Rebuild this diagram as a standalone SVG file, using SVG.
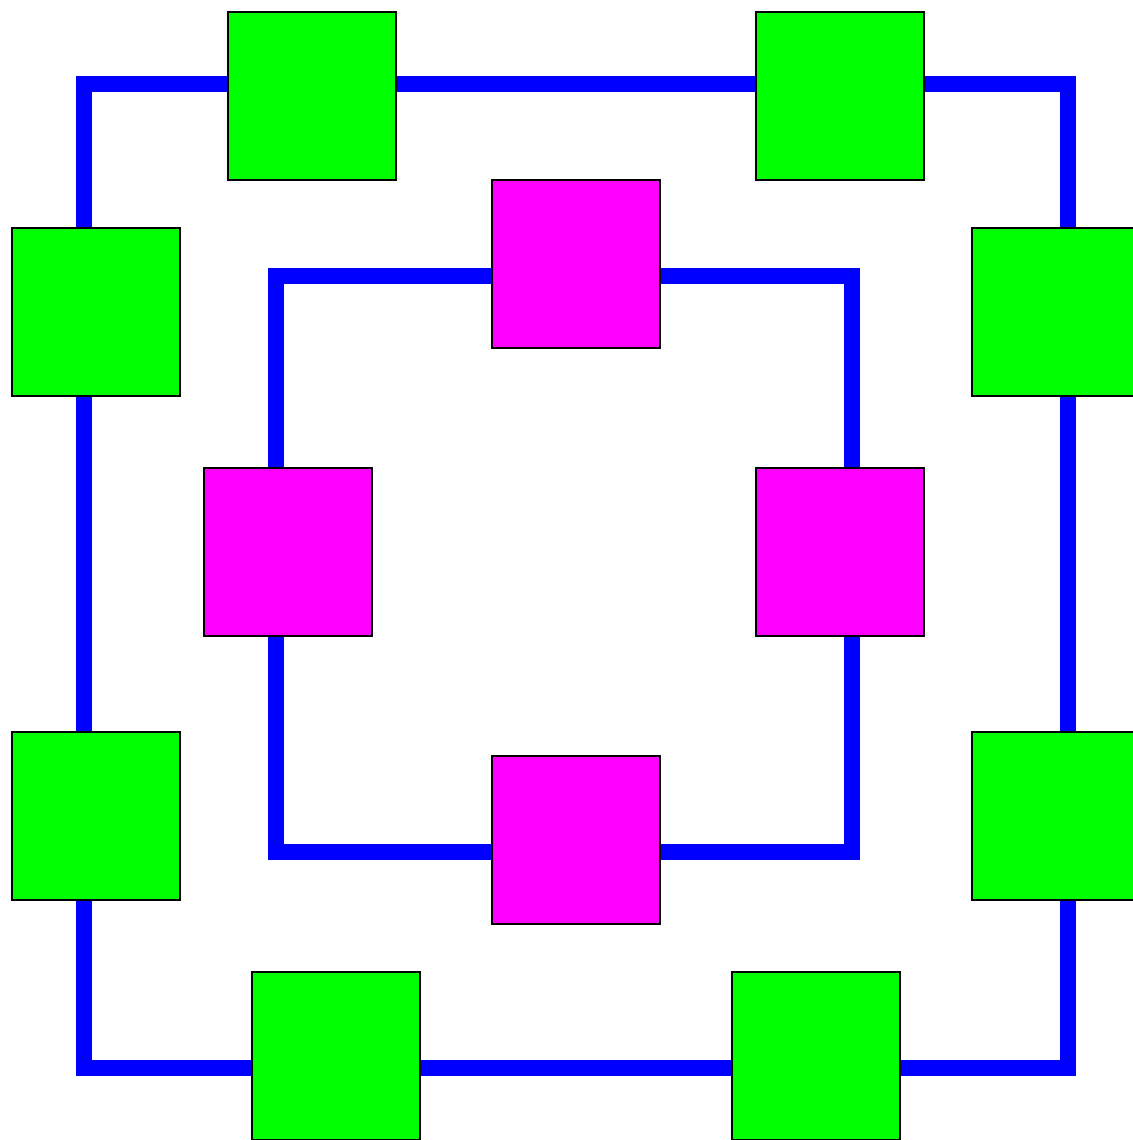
<svg xmlns="http://www.w3.org/2000/svg" width="1133" height="1140" viewBox="0 0 1133 1140">
  <style>
    .edge { fill: none; stroke: #0000ff; stroke-width: 16; stroke-linejoin: miter; stroke-linecap: butt; }
    .green { fill: #00ff00; stroke: #000000; stroke-width: 2; }
    .magenta { fill: #ff00ff; stroke: #000000; stroke-width: 2; }
  </style>
  <rect width="1133" height="1140" fill="#ffffff"/>
  <g id="connectors">
    <path class="edge" d="M312,84 H840"/>
    <path class="edge" d="M840,84 H1068 V312"/>
    <path class="edge" d="M1068,312 V816"/>
    <path class="edge" d="M1068,816 V1068 H816"/>
    <path class="edge" d="M816,1068 H336"/>
    <path class="edge" d="M336,1068 H84 V816"/>
    <path class="edge" d="M84,816 V312"/>
    <path class="edge" d="M84,312 V84 H312"/>
    <path class="edge" d="M576,276 H852 V552"/>
    <path class="edge" d="M852,552 V852 H576"/>
    <path class="edge" d="M576,852 H276 V552"/>
    <path class="edge" d="M276,552 V276 H576"/>
  </g>
  <g id="outer-top-left"><rect class="green" x="228" y="12" width="168" height="168"/></g>
  <g id="outer-top-right"><rect class="green" x="756" y="12" width="168" height="168"/></g>
  <g id="outer-right-top"><rect class="green" x="972" y="228" width="168" height="168"/></g>
  <g id="outer-right-bottom"><rect class="green" x="972" y="732" width="168" height="168"/></g>
  <g id="outer-bottom-right"><rect class="green" x="732" y="972" width="168" height="168"/></g>
  <g id="outer-bottom-left"><rect class="green" x="252" y="972" width="168" height="168"/></g>
  <g id="outer-left-bottom"><rect class="green" x="12" y="732" width="168" height="168"/></g>
  <g id="outer-left-top"><rect class="green" x="12" y="228" width="168" height="168"/></g>
  <g id="inner-top"><rect class="magenta" x="492" y="180" width="168" height="168"/></g>
  <g id="inner-right"><rect class="magenta" x="756" y="468" width="168" height="168"/></g>
  <g id="inner-bottom"><rect class="magenta" x="492" y="756" width="168" height="168"/></g>
  <g id="inner-left"><rect class="magenta" x="204" y="468" width="168" height="168"/></g>
</svg>
